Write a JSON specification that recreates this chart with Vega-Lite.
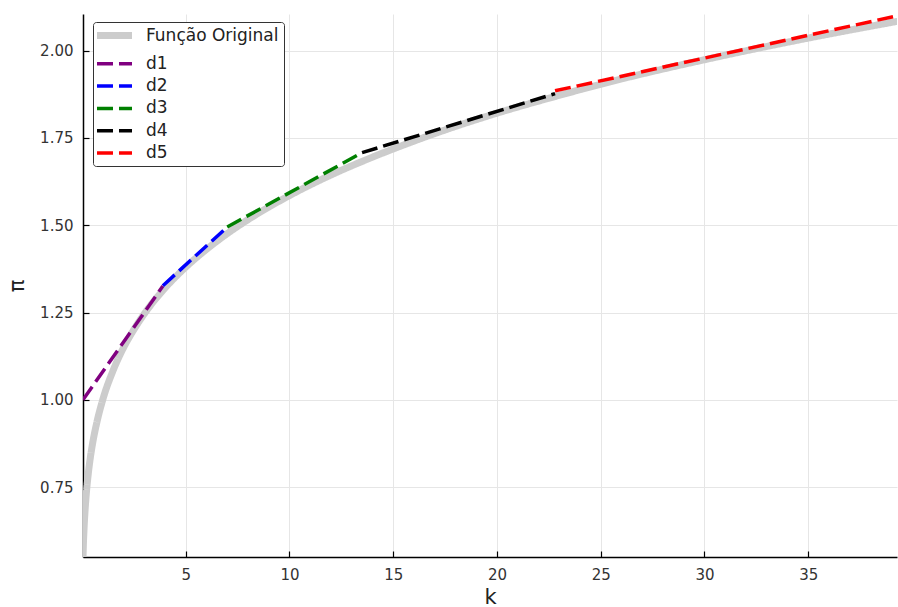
{
  "$schema": "https://vega.github.io/schema/vega-lite/v6.json",
  "width": 814,
  "height": 543,
  "autosize": "none",
  "padding": {"left": 83, "top": 14, "right": 1, "bottom": 50},
  "background": "white",
  "config": {
    "view": {"stroke": null},
    "font": "DejaVu Sans",
    "axis": {
      "grid": true,
      "gridColor": "#e6e6e6",
      "gridWidth": 1,
      "domainColor": "black",
      "domainWidth": 1.5,
      "tickColor": "black",
      "tickSize": -6,
      "tickWidth": 1.2,
      "labelPadding": 16,
      "labelFontSize": 15,
      "labelColor": "#333333",
      "labelFont": "DejaVu Sans",
      "titleFont": "DejaVu Sans",
      "titleFontSize": 21,
      "titleFontWeight": "normal",
      "titleColor": "#222222"
    },
    "legend": {
      "orient": "none",
      "legendX": 10,
      "legendY": 8,
      "fillColor": "white",
      "strokeColor": "#333333",
      "cornerRadius": 3,
      "padding": 5,
      "labelFont": "DejaVu Sans",
      "labelFontSize": 17,
      "labelColor": "#222222",
      "symbolType": "M-4,0L4,0",
      "symbolSize": 76.6,
      "symbolOffset": 8,
      "labelOffset": 23,
      "rowPadding": 4.3,
      "title": null
    }
  },
  "data": {
    "values": [
      {"serie": "Função Original", "k": 0.05, "pi": 0.549},
      {"serie": "Função Original", "k": 0.07, "pi": 0.588},
      {"serie": "Função Original", "k": 0.1, "pi": 0.631},
      {"serie": "Função Original", "k": 0.15, "pi": 0.684},
      {"serie": "Função Original", "k": 0.2, "pi": 0.725},
      {"serie": "Função Original", "k": 0.3, "pi": 0.786},
      {"serie": "Função Original", "k": 0.4, "pi": 0.833},
      {"serie": "Função Original", "k": 0.5, "pi": 0.871},
      {"serie": "Função Original", "k": 0.7, "pi": 0.931},
      {"serie": "Função Original", "k": 1, "pi": 1.0},
      {"serie": "Função Original", "k": 1.5, "pi": 1.084},
      {"serie": "Função Original", "k": 2, "pi": 1.149},
      {"serie": "Função Original", "k": 2.5, "pi": 1.201},
      {"serie": "Função Original", "k": 3, "pi": 1.246},
      {"serie": "Função Original", "k": 4, "pi": 1.320},
      {"serie": "Função Original", "k": 5, "pi": 1.380},
      {"serie": "Função Original", "k": 6, "pi": 1.431},
      {"serie": "Função Original", "k": 7, "pi": 1.476},
      {"serie": "Função Original", "k": 8, "pi": 1.516},
      {"serie": "Função Original", "k": 9, "pi": 1.552},
      {"serie": "Função Original", "k": 10, "pi": 1.585},
      {"serie": "Função Original", "k": 12, "pi": 1.644},
      {"serie": "Função Original", "k": 14, "pi": 1.695},
      {"serie": "Função Original", "k": 16, "pi": 1.741},
      {"serie": "Função Original", "k": 18, "pi": 1.783},
      {"serie": "Função Original", "k": 20, "pi": 1.821},
      {"serie": "Função Original", "k": 23, "pi": 1.872},
      {"serie": "Função Original", "k": 26, "pi": 1.919},
      {"serie": "Função Original", "k": 30, "pi": 1.974},
      {"serie": "Função Original", "k": 35, "pi": 2.036},
      {"serie": "Função Original", "k": 39.3, "pi": 2.084},
      {"serie": "d1", "k": 0.05, "pi": 1.0},
      {"serie": "d1", "k": 3.9, "pi": 1.326},
      {"serie": "d2", "k": 3.9, "pi": 1.327},
      {"serie": "d2", "k": 7.0, "pi": 1.495},
      {"serie": "d3", "k": 7.0, "pi": 1.495},
      {"serie": "d3", "k": 13.5, "pi": 1.708},
      {"serie": "d4", "k": 13.5, "pi": 1.708},
      {"serie": "d4", "k": 22.8, "pi": 1.877},
      {"serie": "d5", "k": 22.8, "pi": 1.885},
      {"serie": "d5", "k": 39.3, "pi": 2.100}
    ]
  },
  "encoding": {
    "x": {
      "field": "k", "type": "quantitative",
      "scale": {"domain": [0.05, 39.28], "nice": false, "zero": false},
      "axis": {"values": [5, 10, 15, 20, 25, 30, 35], "title": "k", "titlePadding": 4}
    },
    "y": {
      "field": "pi", "type": "quantitative",
      "scale": {"domain": [0.55, 2.105], "nice": false, "zero": false},
      "axis": {"values": [0.75, 1.0, 1.25, 1.5, 1.75, 2.0], "format": ".2f", "title": "π", "titlePadding": 12}
    },
    "color": {
      "field": "serie", "type": "nominal",
      "scale": {
        "domain": ["Função Original", "d1", "d2", "d3", "d4", "d5"],
        "range": ["#cccccc", "#800080", "#0000ff", "#008000", "#000000", "#ff0000"]
      }
    },
    "strokeDash": {
      "field": "serie", "type": "nominal",
      "scale": {
        "domain": ["Função Original", "d1", "d2", "d3", "d4", "d5"],
        "range": [[1, 0], [16, 6], [16, 6], [16, 6], [16, 6], [16, 6]]
      }
    },
    "strokeWidth": {
      "field": "serie", "type": "nominal",
      "scale": {
        "type": "ordinal",
        "domain": ["Função Original", "d1", "d2", "d3", "d4", "d5"],
        "range": [7, 3.5, 3.5, 3.5, 3.5, 3.5]
      }
    }
  },
  "layer": [
    {
      "transform": [{"filter": "datum.serie == 'Função Original'"}],
      "mark": {"type": "line", "clip": true, "interpolate": "monotone"}
    },
    {
      "transform": [{"filter": "datum.serie != 'Função Original'"}],
      "mark": {"type": "line", "clip": true}
    }
  ]
}
